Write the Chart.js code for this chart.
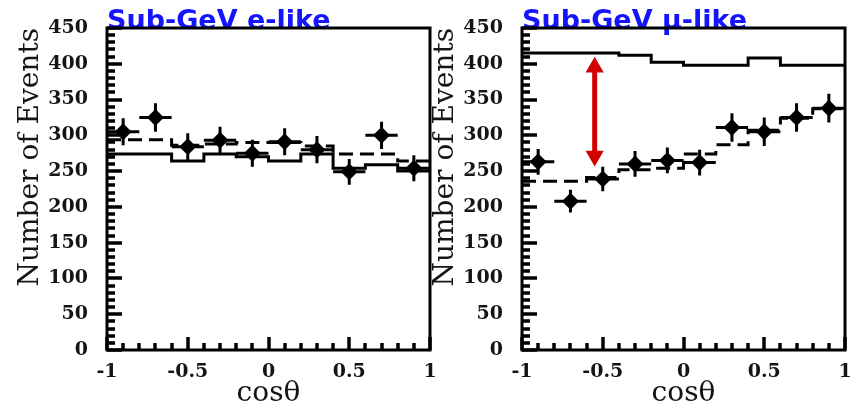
<!DOCTYPE html>
<html><head><meta charset="utf-8">
<script src="https://cdn.jsdelivr.net/npm/chart.js@4/dist/chart.umd.min.js"></script>
<style>
html,body{margin:0;padding:0;background:#fff;}
body{width:858px;height:408px;position:relative;overflow:hidden;}
canvas{position:absolute;top:0;}
#c1{left:0;}
#c2{left:415px;}
</style></head><body>
<canvas id="c1" width="440" height="408"></canvas>
<canvas id="c2" width="443" height="408"></canvas>
<script>
// ---- data ----
const binEdges   = [-1, -0.8, -0.6, -0.4, -0.2, 0, 0.2, 0.4, 0.6, 0.8, 1];
const binCenters = [-0.9, -0.7, -0.5, -0.3, -0.1, 0.1, 0.3, 0.5, 0.7, 0.9];

const panelTitles = ['Sub-GeV e-like', 'Sub-GeV \u03bc-like'];
const xAxisTitle = 'cos\u03b8';
const yAxisTitle = 'Number of Events';
const xMajorTicks = [-1, -0.5, 0, 0.5, 1];
const yMajorTicks = [0, 50, 100, 150, 200, 250, 300, 350, 400, 450];

// Sub-GeV e-like
const eData  = [305, 325, 284, 293, 275, 291, 280, 249, 300, 254];
const eErr   = [19, 20, 19, 19, 19, 19, 19, 18, 19, 18];
const eNoOsc = [274, 274, 264, 274, 270, 264, 274, 254, 259, 250];
const eOsc   = [294, 294, 286, 288, 290, 290, 285, 274, 274, 264];

// Sub-GeV mu-like
const muData  = [263, 208, 239, 260, 265, 262, 311, 305, 325, 338];
const muErr   = [18, 16, 17, 18, 18, 18, 20, 20, 20, 20];
const muNoOsc = [415, 415, 415, 412, 402, 398, 398, 408, 398, 398];
const muOsc   = [236, 236, 241, 252, 254, 274, 287, 307, 324, 337];

// red arrow (mu-like panel): x position, [bottom head, top head]
const arrowX = -0.55;
const arrowY = [271, 395];

// ---- helpers ----
function stepPoints(vals) {
  return binEdges.map((x, i) => ({x: x, y: vals[Math.min(i, vals.length - 1)]}));
}
function hBars(vals) {
  const out = [];
  vals.forEach((v, i) => {
    out.push({x: binEdges[i], y: v}, {x: binEdges[i + 1], y: v}, {x: binCenters[i], y: null});
  });
  return out;
}
function vBars(vals, errs) {
  const out = [];
  vals.forEach((v, i) => {
    out.push({x: binCenters[i], y: v - errs[i]}, {x: binCenters[i], y: v + errs[i]}, {x: binCenters[i], y: null});
  });
  return out;
}
const fmt = v => String(Math.round(v * 100) / 100);

// inward tick marks (major + minor), panel title and frame
function drawTicks(chart) {
  const ctx = chart.ctx;
  const a = chart.chartArea;
  const ys = chart.scales.y, xs = chart.scales.x;
  ctx.save();
  ctx.setLineDash([]);
  ctx.globalAlpha = 1;
  ctx.globalCompositeOperation = 'source-over';
  ctx.fillStyle = '#000000';
  for (let k = 0; k <= 45; k++) {
    const yp = Math.round(ys.getPixelForValue(k * 10));
    const len = (k % 5 === 0) ? 15 : 8;
    ctx.fillRect(Math.round(a.left), yp - 1.5, len, 3);
  }
  for (let k = 0; k <= 20; k++) {
    const xp = Math.round(xs.getPixelForValue(-1 + k * 0.1));
    const len = (k % 5 === 0) ? 13 : 7;
    ctx.fillRect(xp - 1.5, Math.round(a.bottom) - len, 3, len);
  }
  ctx.restore();
}
const framePlugin = {
  id: 'frame',
  afterDatasetsDraw(chart) { drawTicks(chart); },
  afterDraw(chart, args, opts) {
    const ctx = chart.ctx;
    const a = chart.chartArea;
    ctx.save();
    ctx.setLineDash([]);
    ctx.fillStyle = '#1414ff';
    ctx.font = 'bold 27px "DejaVu Sans"';
    ctx.textBaseline = 'alphabetic';
    ctx.textAlign = 'left';
    ctx.fillText(opts.text, a.left, a.top + 1);
    ctx.strokeStyle = '#000';
    ctx.lineWidth = 3;
    ctx.strokeRect(a.left, a.top, a.right - a.left, a.bottom - a.top);
    ctx.restore();
    drawTicks(chart);
  }
};

const serif = 'DejaVu Serif';
const textCol = '#151515';

function makeChart(id, padRight, title, data, err, noOsc, osc, withArrow) {
  const datasets = [
    {data: binCenters.map((c, i) => ({x: c, y: data[i]})), showLine: false,
     pointStyle: 'rectRot', pointRadius: 8.5, pointBackgroundColor: '#000', pointBorderWidth: 0, order: 0},
    {data: hBars(data), showLine: true, spanGaps: false, borderColor: '#000', borderWidth: 3, pointRadius: 0, order: 1},
    {data: vBars(data, err), showLine: true, spanGaps: false, borderColor: '#000', borderWidth: 3, pointRadius: 0, order: 1},
    {data: stepPoints(noOsc), showLine: true, stepped: 'before', borderColor: '#000', borderWidth: 3, pointRadius: 0, order: 3},
    {data: stepPoints(osc), showLine: true, stepped: 'before', borderColor: '#000', borderWidth: 3, borderDash: [14, 7], pointRadius: 0, order: 3}
  ];
  if (withArrow) {
    datasets.push({data: [{x: arrowX, y: arrowY[0]}, {x: arrowX, y: arrowY[1]}], showLine: true,
      borderColor: '#d40000', borderWidth: 5, pointStyle: 'triangle', pointRadius: 10.5,
      pointRotation: [180, 0], pointBackgroundColor: '#d40000', pointBorderWidth: 0, order: 2});
  }
  return new Chart(document.getElementById(id), {
    type: 'scatter',
    data: {datasets},
    plugins: [framePlugin],
    options: {
      responsive: false, animation: false, events: [],
      layout: {padding: {left: 0, right: padRight, top: 28, bottom: 0}},
      plugins: {
        legend: {display: false}, tooltip: {enabled: false}, title: {display: false},
        frame: {text: title}
      },
      scales: {
        x: {type: 'linear', position: 'bottom', min: -1, max: 1,
            afterBuildTicks(s) { s.ticks = xMajorTicks.map(v => ({value: v})); },
            ticks: {padding: 11, color: textCol, maxRotation: 0, autoSkip: false, callback: fmt,
                    font: {family: serif, size: 19, weight: 'bold'}},
            grid: {display: false, drawTicks: false},
            border: {display: false},
            title: {display: true, text: xAxisTitle, color: textCol, padding: 0,
                    font: {family: serif, size: 28, lineHeight: 1}},
            afterFit(s) { s.height = 58; s.paddingLeft = 0; s.paddingRight = 0; }},
        y: {type: 'linear', position: 'left', min: 0, max: 450,
            afterBuildTicks(s) { s.ticks = yMajorTicks.map(v => ({value: v})); },
            ticks: {padding: 19, color: textCol, autoSkip: false, callback: fmt,
                    font: {family: serif, size: 19, weight: 'bold'}},
            grid: {display: false, drawTicks: false},
            border: {display: false},
            title: {display: true, text: yAxisTitle, align: 'end', color: textCol, padding: {top: 14, bottom: 0},
                    font: {family: serif, size: 28, lineHeight: 1.2}},
            afterFit(s) { s.width = 107; s.paddingTop = 0; s.paddingBottom = 0; }}
      }
    }
  });
}

makeChart('c1', 10, panelTitles[0], eData, eErr, eNoOsc, eOsc, false);
makeChart('c2', 13, panelTitles[1], muData, muErr, muNoOsc, muOsc, true);
</script>
</body></html>
